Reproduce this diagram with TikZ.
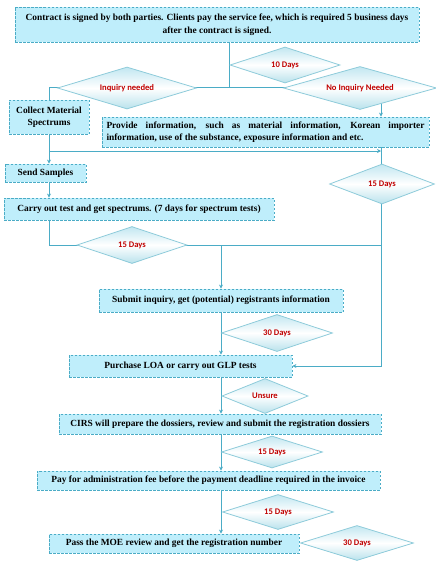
\documentclass[tikz,border=0pt]{standalone}
\usepackage{fontspec}
\setmainfont{Liberation Serif}
\newfontfamily\daysfont{Carlito}
\usetikzlibrary{shapes.geometric,arrows.meta,backgrounds}

\definecolor{boxfill}{HTML}{BFEEFB}
\definecolor{boxline}{HTML}{4BACC6}
\definecolor{dialine}{HTML}{8ECBDA}
\definecolor{diatop}{HTML}{C2E7F1}
\definecolor{diabot}{HTML}{B9E2EC}
\definecolor{daytext}{HTML}{C00000}

\tikzset{
  stepbox/.style={draw=boxline, fill=boxfill, line width=0.8pt, dash pattern=on 2.5pt off 1.5pt,
    font=\bfseries\fontsize{9.4}{12.5}\selectfont, inner sep=1pt, align=center},
  daybox/.style={diamond, aspect=4, draw=dialine, line width=0.8pt, top color=diatop, bottom color=diabot,
    middle color=white, font=\daysfont\bfseries\fontsize{8.6}{9}\selectfont, text=daytext, inner sep=0pt},
  link/.style={draw=boxline, line width=0.8pt},
  >={Stealth[length=4pt,width=4pt]}
}

\begin{document}
\begin{tikzpicture}[x=1pt,y=-1pt]
    \useasboundingbox (0,0) rectangle (436,565);

    % Steps
    \node[stepbox, minimum width=404, minimum height=35] (contract) at (217,24.5)
        {Contract is signed by both parties. Clients pay the service fee, which is required 5 business days\\after the contract is signed.};
    \node[stepbox, minimum width=80, minimum height=34] (collect) at (49,117) {Collect Material\\Spectrums};
    \node[stepbox, minimum width=327, minimum height=30, text width=318, align=justify] (provide) at (265.5,132)
        {Provide information, such as material information, Korean importer\linebreak information, use of the substance, exposure information and etc.};
    \node[stepbox, minimum width=81, minimum height=18] (send) at (45.5,173) {Send Samples};
    \node[stepbox, minimum width=270, minimum height=22] (carry) at (139,209) {Carry out test and get spectrums. (7 days for spectrum tests)};
    \node[stepbox, minimum width=244, minimum height=23] (submit) at (221,300.5) {Submit inquiry, get (potential) registrants information};
    \node[stepbox, minimum width=223, minimum height=22] (purchase) at (180.5,366) {Purchase LOA or carry out GLP tests};
    \node[stepbox, minimum width=322, minimum height=20] (prepare) at (220,424) {CIRS will prepare the dossiers, review and submit the registration dossiers};
    \node[stepbox, minimum width=343, minimum height=19] (pay) at (208.5,480.5) {Pay for administration fee before the payment deadline required in the invoice};
    \node[stepbox, minimum width=250, minimum height=19] (pass) at (174,543.5) {Pass the MOE review and get the registration number};

    % Durations and conditions
    \node[daybox, minimum width=110, minimum height=36] (days10) at (285,65) {10 Days};
    \node[daybox, minimum width=139, minimum height=42] (inquiry) at (127,88) {Inquiry needed};
    \node[daybox, minimum width=153, minimum height=43] (noinquiry) at (360,88) {No Inquiry Needed};
    \node[daybox, minimum width=105, minimum height=40] (days15a) at (382,184) {15 Days};
    \node[daybox, minimum width=110, minimum height=37] (days15b) at (132,245) {15 Days};
    \node[daybox, minimum width=111, minimum height=37] (days30a) at (277,333) {30 Days};
    \node[daybox, minimum width=86, minimum height=35] (unsure) at (265,396) {Unsure};
    \node[daybox, minimum width=101, minimum height=32] (days15c) at (272,452) {15 Days};
    \node[daybox, minimum width=111, minimum height=35] (days15d) at (278,512) {15 Days};
    \node[daybox, minimum width=113, minimum height=35] (days30b) at (357,543) {30 Days};

    % Junctions
    \coordinate (split) at (229,87);
    \coordinate (rail) at (381,245);
    \coordinate (merge) at (381,151);
    \coordinate (left) at (49,245);
    \coordinate (drop) at (221,245);

    % Connectors
    \begin{pgfonlayer}{background}
    \draw[link] (contract.south -| split) -- (split);
    \draw[link] (split) -| (collect.north);
    \draw[link, ->] (split) -| (provide.north -| rail);
    \draw[link, ->] (collect.south) |- (merge);
    \draw[link, ->] (collect.south) -- (send.north -| collect.south);
    \draw[link] (provide.south -| rail) -- (rail);
    \draw[link, ->] (send.south -| left) -- (carry.north -| left);
    \draw[link] (carry.south -| left) -- (left) -- (rail);
    \draw[link, ->] (rail) |- (purchase.east);
    \draw[link, ->] (drop) -- (submit.north);
    \draw[link, ->] (submit.south) -- (purchase.north -| drop);
    \draw[link, ->] (purchase.south -| drop) -- (prepare.north -| drop);
    \draw[link, ->] (prepare.south -| drop) -- (pay.north -| drop);
    \draw[link, ->] (pay.south -| drop) -- (pass.north -| drop);
    \end{pgfonlayer}
\end{tikzpicture}
\end{document}
